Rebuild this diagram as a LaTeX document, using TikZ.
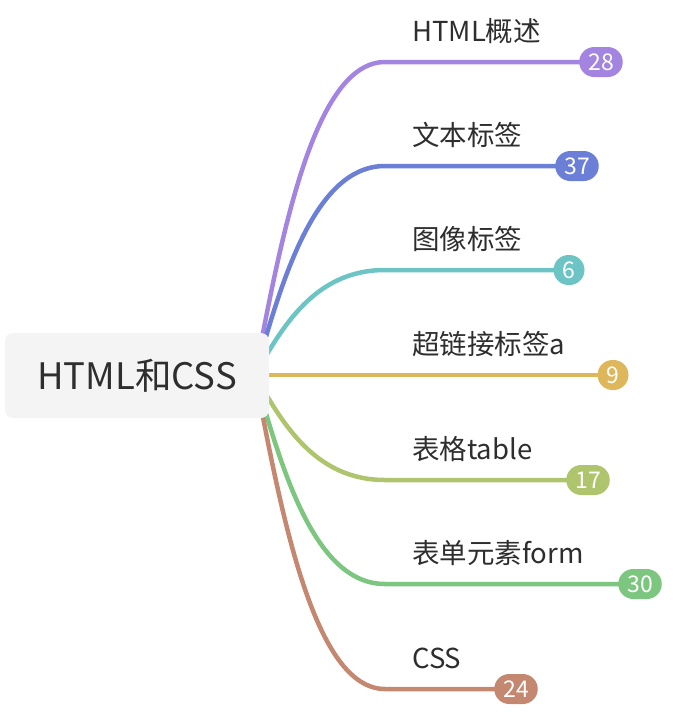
\documentclass[tikz,border=0pt]{standalone}
\usepackage{fontspec}
\setmainfont{Noto Sans CJK SC}
\usetikzlibrary{backgrounds}
\definecolor{cpurple}{HTML}{A384E0}
\definecolor{cblue}{HTML}{6B7FD7}
\definecolor{cteal}{HTML}{6CC4C4}
\definecolor{cgold}{HTML}{DEB65B}
\definecolor{colive}{HTML}{AFC56D}
\definecolor{cgreen}{HTML}{7DC67F}
\definecolor{cbrown}{HTML}{C4876F}
\definecolor{rootfill}{HTML}{F4F4F4}
\definecolor{txt}{HTML}{2E2E2E}
\tikzset{
  rootbox/.style={rectangle, rounded corners=8pt, fill=rootfill, minimum width=264pt, minimum height=85pt, inner sep=0pt, text=txt, font=\fontsize{36.5}{36.5}\selectfont},
  lbl/.style={anchor=base west, inner sep=0pt, text=txt, font=\fontsize{27.5}{27.5}\selectfont},
  badge/.style={rectangle, rounded corners=15pt, fill=#1, text=white, minimum height=30pt, minimum width=31pt, inner xsep=9pt, inner ysep=0pt, font=\fontsize{23}{23}\selectfont},
  branch/.style={draw=#1, line width=4.5pt}
}
\begin{document}
\begin{tikzpicture}[x=1pt,y=-1pt]
\useasboundingbox (0,0) rectangle (698,726);
\node[rootbox] (root) at (137,375.5) {HTML和CSS};
\coordinate (s) at (255,375);
% badges
\node[badge=cpurple] (b1) at (601,62) {28};
\node[badge=cblue] (b2) at (577,166) {37};
\node[badge=cteal] (b3) at (569,270) {6};
\node[badge=cgold] (b4) at (613,375) {9};
\node[badge=colive] (b5) at (588,480) {17};
\node[badge=cgreen] (b6) at (640,584) {30};
\node[badge=cbrown] (b7) at (516,689) {24};
% labels
\node[lbl] (l1) at (412,41) {HTML概述};
\node[lbl] (l2) at (412,145) {文本标签};
\node[lbl] (l3) at (412,249) {图像标签};
\node[lbl] (l4) at (412,354) {超链接标签a};
\node[lbl] (l5) at (412,459) {表格table};
\node[lbl] (l6) at (412,563) {表单元素form};
\node[lbl] (l7) at (412,668) {CSS};
\coordinate (e1) at (385,62);
\coordinate (e2) at (385,166);
\coordinate (e3) at (385,270);
\coordinate (e5) at (385,480);
\coordinate (e6) at (385,584);
\coordinate (e7) at (385,689);
\begin{pgfonlayer}{background}
\draw[branch=cpurple] (s) .. controls (282,231) and (315,62) .. (e1) -- (b1.center);
\draw[branch=cblue] (s) .. controls (282,279) and (315,166) .. (e2) -- (b2.center);
\draw[branch=cteal] (s) .. controls (282,327) and (315,270) .. (e3) -- (b3.center);
\draw[branch=cgold] (s) -- (b4.center);
\draw[branch=colive] (s) .. controls (282,423) and (315,480) .. (e5) -- (b5.center);
\draw[branch=cgreen] (s) .. controls (282,471) and (315,584) .. (e6) -- (b6.center);
\draw[branch=cbrown] (s) .. controls (282,519) and (315,689) .. (e7) -- (b7.center);
\end{pgfonlayer}
\end{tikzpicture}
\end{document}
